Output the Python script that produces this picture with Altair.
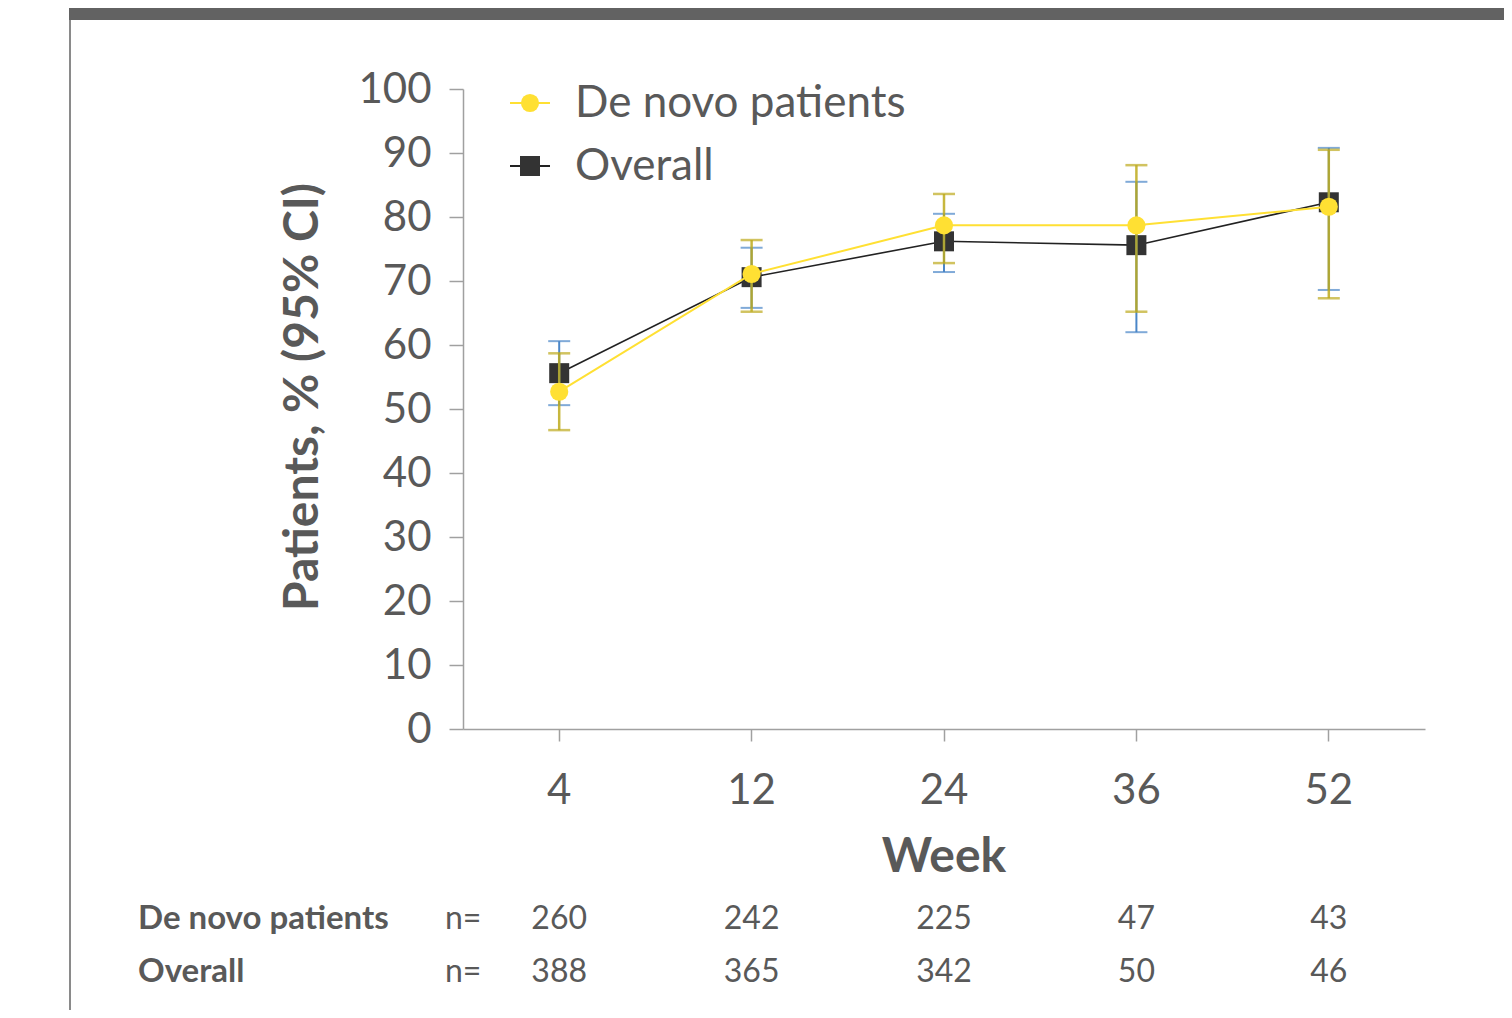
import altair as alt
import pandas as pd

weeks = ["4", "12", "24", "36", "52"]
denovo = [52.7, 71.1, 78.7, 78.7, 81.6]
denovo_lo = [46.7, 65.2, 72.8, 65.2, 67.3]
denovo_hi = [58.7, 76.4, 83.6, 88.1, 90.5]
overall = [55.6, 70.6, 76.2, 75.6, 82.3]
overall_lo = [50.6, 65.8, 71.4, 62.0, 68.6]
overall_hi = [60.6, 75.2, 80.5, 85.5, 90.8]
n_denovo = [260, 242, 225, 47, 43]
n_overall = [388, 365, 342, 50, 46]

FONT = "Lato"
GREY = "#595959"
YEL = "#FFE033"
YEL_CI = "#BDAA1C"
BLUE = "#4A86C8"
DARK = "#333333"

df = pd.DataFrame({
    "week": weeks, "denovo": denovo, "dlo": denovo_lo, "dhi": denovo_hi,
    "overall": overall, "olo": overall_lo, "ohi": overall_hi,
    "nd": n_denovo, "no": n_overall,
})

W, H = 962, 640
xenc = alt.X("week:N", sort=weeks, scale=alt.Scale(paddingInner=0, paddingOuter=0),
             axis=alt.Axis(title=None, labelAngle=0, labelFont=FONT, labelFontSize=42,
                           labelColor=GREY, labelPadding=29, tickSize=12, tickColor="#A0A0A0",
                           domainColor="#A0A0A0", tickWidth=1.5, domainWidth=1.5))
yscale = alt.Scale(domain=[0, 100], nice=False)
yaxis = alt.Axis(title=None, values=list(range(0, 101, 10)), labelFont=FONT, labelFontSize=42,
                 labelColor=GREY, labelPadding=18, tickSize=14, tickColor="#A0A0A0",
                 domainColor="#A0A0A0", tickWidth=1.5, domainWidth=1.5, grid=False)

base = alt.Chart(df)

line_o = base.mark_line(color="#222222", strokeWidth=1.6).encode(
    x=xenc, y=alt.Y("overall:Q", scale=yscale, axis=yaxis))
pts_o = base.mark_point(shape="square", filled=True, size=400, color=DARK, opacity=1).encode(
    x=alt.X("week:N", sort=weeks), y=alt.Y("overall:Q", scale=yscale))
ci_o = base.mark_rule(color=BLUE, strokeWidth=2).encode(
    x=alt.X("week:N", sort=weeks), y=alt.Y("olo:Q", scale=yscale), y2="ohi:Q")
cap_o_lo = base.mark_tick(color=BLUE, thickness=2, size=22).encode(
    x=alt.X("week:N", sort=weeks), y=alt.Y("olo:Q", scale=yscale))
cap_o_hi = base.mark_tick(color=BLUE, thickness=2, size=22).encode(
    x=alt.X("week:N", sort=weeks), y=alt.Y("ohi:Q", scale=yscale))
ci_d = base.mark_rule(color=YEL_CI, strokeWidth=2.5, opacity=0.85).encode(
    x=alt.X("week:N", sort=weeks), y=alt.Y("dlo:Q", scale=yscale), y2="dhi:Q")
cap_d_lo = base.mark_tick(color=YEL_CI, thickness=2.5, size=22).encode(
    x=alt.X("week:N", sort=weeks), y=alt.Y("dlo:Q", scale=yscale))
cap_d_hi = base.mark_tick(color=YEL_CI, thickness=2.5, size=22).encode(
    x=alt.X("week:N", sort=weeks), y=alt.Y("dhi:Q", scale=yscale))
line_d = base.mark_line(color=YEL, strokeWidth=2).encode(
    x=alt.X("week:N", sort=weeks), y=alt.Y("denovo:Q", scale=yscale))
pts_d = base.mark_point(shape="circle", filled=True, size=330, color=YEL, opacity=1).encode(
    x=alt.X("week:N", sort=weeks), y=alt.Y("denovo:Q", scale=yscale))

one = alt.Chart(pd.DataFrame({"k": [0]}))

# decorations (slide frame)
top_bar = one.mark_rect(color="#626262").encode(
    x=alt.value(-394), x2=alt.value(1060), y=alt.value(-100), y2=alt.value(-69))
left_line = one.mark_rule(color="#8A8A8A", strokeWidth=2).encode(
    x=alt.value(-393), y=alt.value(-69), y2=alt.value(940))

# legend
leg_line_d = one.mark_rule(color=YEL, strokeWidth=2).encode(
    x=alt.value(47), x2=alt.value(87), y=alt.value(14))
leg_pt_d = one.mark_point(shape="circle", filled=True, size=330, color=YEL, opacity=1).encode(
    x=alt.value(67), y=alt.value(14))
leg_line_o = one.mark_rule(color="#222222", strokeWidth=2).encode(
    x=alt.value(47), x2=alt.value(87), y=alt.value(77))
leg_pt_o = one.mark_point(shape="square", filled=True, size=400, color=DARK, opacity=1).encode(
    x=alt.value(67), y=alt.value(77))
leg_txt_d = one.mark_text(font=FONT, fontSize=44, color=GREY, align="left", baseline="middle").encode(
    x=alt.value(112), y=alt.value(15), text=alt.value("De novo patients"))
leg_txt_o = one.mark_text(font=FONT, fontSize=44, color=GREY, align="left", baseline="middle").encode(
    x=alt.value(112), y=alt.value(78), text=alt.value("Overall"))

# titles
ytitle = one.mark_text(font=FONT, fontSize=48, fontWeight="bold", color=GREY, angle=270,
                       align="center", baseline="middle").encode(
    x=alt.value(-159), y=alt.value(308), text=alt.value("Patients, % (95% CI)"))
xtitle = one.mark_text(font=FONT, fontSize=48, fontWeight="bold", color=GREY,
                       align="center", baseline="middle").encode(
    x=alt.value(481), y=alt.value(769), text=alt.value("Week"))

# n table
row1 = one.mark_text(font=FONT, fontSize=33, fontWeight="bold", color=GREY, align="left",
                     baseline="middle").encode(x=alt.value(-325), y=alt.value(830),
                                               text=alt.value("De novo patients"))
row2 = one.mark_text(font=FONT, fontSize=33, fontWeight="bold", color=GREY, align="left",
                     baseline="middle").encode(x=alt.value(-325), y=alt.value(883),
                                               text=alt.value("Overall"))
neq1 = one.mark_text(font=FONT, fontSize=32, color=GREY, align="left", baseline="middle").encode(
    x=alt.value(-18), y=alt.value(830), text=alt.value("n="))
neq2 = one.mark_text(font=FONT, fontSize=32, color=GREY, align="left", baseline="middle").encode(
    x=alt.value(-18), y=alt.value(883), text=alt.value("n="))
nd_txt = base.mark_text(font=FONT, fontSize=32, color=GREY, align="center", baseline="middle").encode(
    x=alt.X("week:N", sort=weeks), y=alt.value(830), text="nd:Q")
no_txt = base.mark_text(font=FONT, fontSize=32, color=GREY, align="center", baseline="middle").encode(
    x=alt.X("week:N", sort=weeks), y=alt.value(883), text="no:Q")

chart = alt.layer(
    line_o, top_bar, left_line,
    pts_o, ci_o, cap_o_lo, cap_o_hi, ci_d, cap_d_lo, cap_d_hi, line_d, pts_d,
    leg_line_d, leg_pt_d, leg_line_o, leg_pt_o, leg_txt_d, leg_txt_o,
    ytitle, xtitle, row1, row2, neq1, neq2, nd_txt, no_txt,
).properties(
    width=W, height=H,
    background="white",
    autosize=alt.AutoSizeParams(type="none"),
    padding={"left": 455, "top": 81, "right": 79, "bottom": 281},
).configure_view(strokeWidth=0, stroke="transparent")

chart.save("out.html", embed_options={"renderer": "svg", "actions": False})
